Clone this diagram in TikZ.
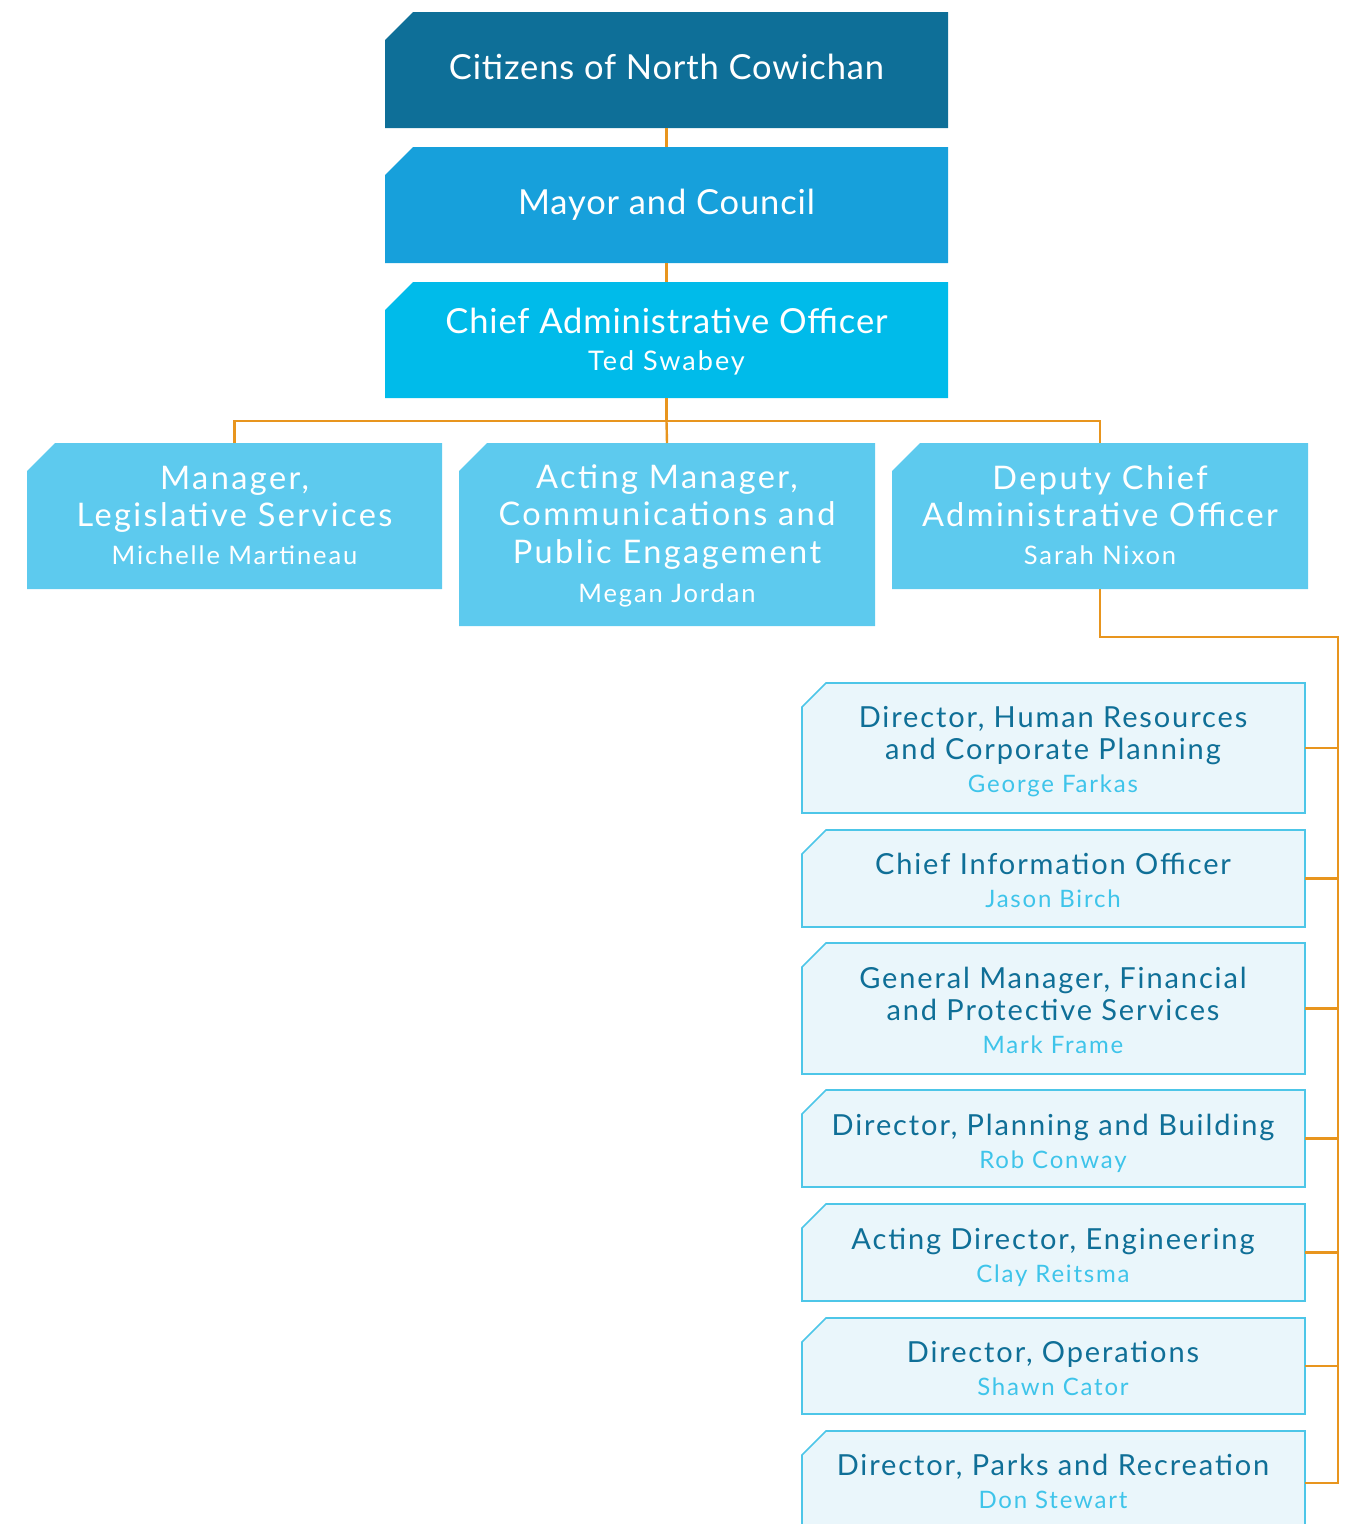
\documentclass[tikz,border=0pt]{standalone}
\usepackage{fontspec}
\setmainfont{Lato}
\newfontfamily\topfont{Lato}[LetterSpace=2.5]
\newfontfamily\midfont{Lato}[LetterSpace=7.5]
\newfontfamily\lowfont{Lato}[LetterSpace=6.5]
\newfontfamily\namefont{Lato}[LetterSpace=7.5]
\usetikzlibrary{calc}
\pgfdeclarelayer{background}
\pgfsetlayers{background,main}

\definecolor{navy}{HTML}{0E6F98}
\definecolor{midblue}{HTML}{17A0DB}
\definecolor{brightblue}{HTML}{00BBEA}
\definecolor{skyblue}{HTML}{5DCAEE}
\definecolor{paleblue}{HTML}{EAF6FB}
\definecolor{edgeblue}{HTML}{4DC6E8}
\definecolor{darktext}{HTML}{0F6F97}
\definecolor{nametext}{HTML}{3EC4EA}
\definecolor{linkorange}{HTML}{E8951E}

% chamfered backdrop behind a named plate: name, chamfer size, path style
\newcommand\chamfback[3]{%
  \begin{pgfonlayer}{background}
    \path[#3] (#1.south west) -- ([yshift=-#2]#1.north west)
      -- ([xshift=#2]#1.north west) -- (#1.north east)
      -- (#1.south east) -- cycle;
  \end{pgfonlayer}}

% text blocks are placed by the baseline of their last line
\tikzset{
  plate/.style={inner sep=0pt, outer sep=0pt},
  topplate/.style={plate, minimum width=563pt, minimum height=116pt},
  midplate/.style={plate, minimum width=415pt},
  lowplate/.style={plate, minimum width=503pt},
  label base/.style={inner sep=0pt, outer sep=0pt, align=center, anchor=base},
  toptext/.style={label base, text=white, font=\topfont\fontsize{34.5}{37}\selectfont},
  midtext/.style={label base, text=white, font=\midfont\fontsize{32.5}{37.5}\selectfont},
  lowtext/.style={label base, text=darktext, font=\lowfont\fontsize{29}{32.5}\selectfont},
  link/.style={draw=linkorange, line width=2.4pt},
}
\newcommand\topname[1]{{\namefont\fontsize{27}{30}\selectfont #1}}
\newcommand\midname[1]{{\namefont\fontsize{25.5}{30}\selectfont #1}}
\newcommand\lowname[1]{{\namefont\fontsize{24}{28}\selectfont\color{nametext}#1}}

\begin{document}
\begin{tikzpicture}[x=1pt,y=-1pt]
\useasboundingbox (0,0) rectangle (1349,1524);
\clip (0,0) rectangle (1349,1524);

% top column
\node[topplate] (cit) at (666.5,70) {};
\node[topplate] (mayor) at (666.5,205) {};
\node[topplate] (cao) at (666.5,340) {};
\chamfback{cit}{28pt}{fill=navy}
\chamfback{mayor}{28pt}{fill=midblue}
\chamfback{cao}{28pt}{fill=brightblue}
\node[toptext] (cit-t) at (666.5,79) {Citizens of North Cowichan};
\node[toptext] (mayor-t) at (666.5,214) {Mayor and Council};
\node[toptext] (cao-t) at (666.5,370) {Chief Administrative Officer\\\topname{Ted Swabey}};

% second row
\node[midplate, minimum height=146pt] (leg) at (234.5,516) {};
\node[midplate, minimum height=183pt, minimum width=416pt] (comm) at (667,534.5) {};
\node[midplate, minimum height=146pt, minimum width=416pt] (dep) at (1100,516) {};
\chamfback{leg}{28pt}{fill=skyblue}
\chamfback{comm}{28pt}{fill=skyblue}
\chamfback{dep}{28pt}{fill=skyblue}
\node[midtext] (leg-t) at (234.5,564)
  {Manager,\\Legislative Services\\\midname{Michelle Martineau}};
\node[midtext] (comm-t) at (667,602)
  {Acting Manager,\\Communications and\\Public Engagement\\[1.5pt]\midname{Megan Jordan}};
\node[midtext] (dep-t) at (1100,564)
  {Deputy Chief\\Administrative Officer\\\midname{Sarah Nixon}};

% departments under the deputy
\node[lowplate, minimum height=130pt] (hr) at (1053.5,748) {};
\node[lowplate, minimum height=97pt] (cio) at (1053.5,878.5) {};
\node[lowplate, minimum height=131pt] (gm) at (1053.5,1008.5) {};
\node[lowplate, minimum height=97pt] (plan) at (1053.5,1138.5) {};
\node[lowplate, minimum height=97pt] (eng) at (1053.5,1252.5) {};
\node[lowplate, minimum height=96pt] (ops) at (1053.5,1366) {};
\node[lowplate, minimum height=104pt] (parks) at (1053.5,1483) {};
\foreach \b in {hr,cio,gm,plan,eng,ops,parks}{
  \chamfback{\b}{24pt}{fill=paleblue, draw=edgeblue, line width=1.6pt}
}
\node[lowtext] (hr-t) at (1053,792)
  {Director, Human Resources\\and Corporate Planning\\\lowname{George Farkas}};
\node[lowtext] (cio-t) at (1053,907)
  {Chief Information Officer\\\lowname{Jason Birch}};
\node[lowtext] (gm-t) at (1053,1053)
  {General Manager, Financial\\and Protective Services\\\lowname{Mark Frame}};
\node[lowtext] (plan-t) at (1053,1168)
  {Director, Planning and Building\\\lowname{Rob Conway}};
\node[lowtext] (eng-t) at (1053,1282)
  {Acting Director, Engineering\\\lowname{Clay Reitsma}};
\node[lowtext] (ops-t) at (1053,1395)
  {Director, Operations\\\lowname{Shawn Cator}};
\node[lowtext] (parks-t) at (1053,1508)
  {Director, Parks and Recreation\\\lowname{Don Stewart}};

% reporting lines
\coordinate (bar) at (666.5,421);
\coordinate (spine) at (1338,637);
\path[link] (cit.south) -- (mayor.north);
\path[link] (mayor.south) -- (cao.north);
\path[link] (cao.south) -- (bar);
\path[link] (leg.north) |- (bar) -| (dep.north);
\path[link] (bar) -- (comm.north);
\path[link] (dep.south) |- (spine) -- (spine |- parks.east) -- (parks.east);
\foreach \b in {hr,cio,gm,plan,eng,ops}{
  \path[link] (\b.east) -- (\b.east -| spine);
}
\end{tikzpicture}
\end{document}
